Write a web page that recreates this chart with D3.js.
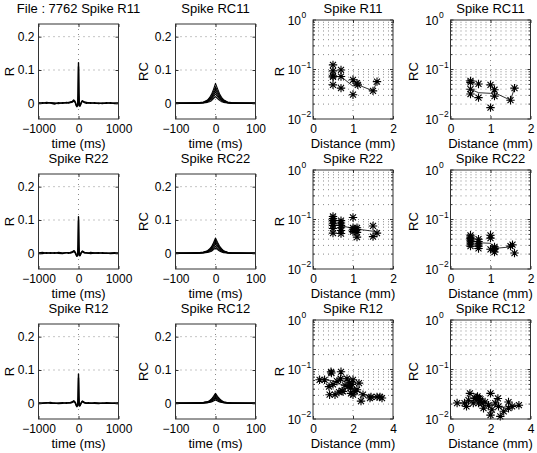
<!DOCTYPE html>
<html><head><meta charset="utf-8">
<script src="https://cdn.jsdelivr.net/npm/d3@7"></script>
<style>
body{margin:0;background:#fff}
text{font-family:"Liberation Sans",Arial,Helvetica,sans-serif;fill:#000}
</style>
</head><body>
<svg id="c" width="537" height="453"></svg>
<script>
// ---------- DATA ----------
const panelTitles = [
  ["File : 7762 Spike R11", "Spike RC11", "Spike R11", "Spike RC11"],
  ["Spike R22", "Spike RC22", "Spike R22", "Spike RC22"],
  ["Spike R12", "Spike RC12", "Spike R12", "Spike RC12"]
];
const yLabels = ["R", "RC", "R", "RC"];
const timeLabel = "time (ms)";
const distLabel = "Distance (mm)";

const rTimeTicks = [-1000, 0, 1000];
const rTimeTickLabels = ["\u22121000", "0", "1000"];
const rcTimeTicks = [-100, 0, 100];
const rcTimeTickLabels = ["\u2212100", "0", "100"];
const corrTicks = [0, 0.1, 0.2];
const corrTickLabels = ["0", "0.1", "0.2"];
const distTicksShort = [0, 1, 2];
const distTicksLong = [0, 2, 4];
const logTicks = [0.01, 0.1, 1];
const logTickExp = ["\u22122", "\u22121", "0"];

// cross-correlation time axis (R panels, ms)
const tR = [-1000,-900,-800,-700,-600,-500,-400,-300,-250,-200,-150,-120,-100,-80,-60,-40,-20,-10,0,10,20,40,60,80,100,120,150,200,250,300,400,500,600,700,800,900,1000];
const r11A = [0.002,0.000,0.003,0.001,-0.002,0.002,0.000,0.003,0.001,0.004,0.006,0.010,0.008,0.004,-0.004,-0.008,-0.004,0.030,0.122,0.030,-0.006,-0.008,-0.002,0.006,0.008,0.006,0.004,0.003,0.001,0.002,0.000,0.001,-0.001,0.002,0.000,0.001,0.001];
const r11B = [-0.001,0.002,0.000,0.002,0.001,-0.001,0.002,0.001,0.003,0.002,0.004,0.007,0.005,0.002,-0.006,-0.010,-0.006,0.020,0.110,0.024,-0.008,-0.006,0.000,0.004,0.006,0.004,0.002,0.000,0.002,0.000,0.002,-0.001,0.001,0.000,0.002,-0.001,0.000];
const r22A = [0.001,0.003,0.000,0.002,0.000,0.003,0.001,0.002,0.000,0.003,0.005,0.008,0.007,0.003,-0.003,-0.007,-0.003,0.028,0.110,0.026,-0.005,-0.007,-0.001,0.005,0.007,0.005,0.003,0.002,0.000,0.003,0.001,0.000,0.002,0.000,0.001,0.002,0.000];
const r22B = [0.000,-0.001,0.002,0.000,0.002,0.000,-0.001,0.002,0.002,0.001,0.003,0.005,0.004,0.001,-0.005,-0.009,-0.005,0.018,0.098,0.020,-0.007,-0.005,0.001,0.003,0.005,0.003,0.001,0.001,0.001,-0.001,0.001,0.002,0.000,0.001,-0.001,0.000,0.001];
const r12A = [0.002,0.000,0.001,0.003,0.000,0.001,0.002,0.000,0.002,0.003,0.005,0.008,0.006,0.003,-0.004,-0.008,-0.004,0.022,0.088,0.022,-0.006,-0.007,-0.001,0.005,0.007,0.005,0.003,0.001,0.002,0.000,0.002,0.001,0.000,0.002,0.001,0.000,0.002];
const r12B = [-0.001,0.001,0.002,0.000,0.001,-0.001,0.000,0.002,0.001,0.001,0.003,0.005,0.004,0.001,-0.006,-0.010,-0.006,0.014,0.076,0.016,-0.008,-0.005,0.000,0.003,0.005,0.003,0.001,0.000,0.000,0.001,0.000,-0.001,0.001,0.000,0.000,0.001,-0.001];

// RC panels time axis (ms)
const tRC = [-100,-80,-60,-40,-30,-20,-15,-10,-5,0,5,10,15,20,30,40,60,80,100];
const rc11 = [
  [0.000,0.001,0.001,0.002,0.004,0.010,0.017,0.027,0.042,0.060,0.044,0.029,0.018,0.011,0.004,0.002,0.001,0.000,0.000],
  [0.001,0.000,0.001,0.002,0.003,0.008,0.014,0.022,0.035,0.050,0.036,0.024,0.015,0.009,0.003,0.001,0.001,0.001,0.000],
  [0.000,0.000,0.001,0.001,0.003,0.007,0.012,0.018,0.029,0.042,0.030,0.020,0.012,0.007,0.003,0.001,0.000,0.000,0.001],
  [0.000,0.001,0.000,0.001,0.002,0.006,0.010,0.015,0.024,0.035,0.025,0.016,0.010,0.006,0.002,0.001,0.001,0.000,0.000],
  [0.001,0.000,0.000,0.001,0.002,0.005,0.008,0.012,0.019,0.028,0.020,0.013,0.008,0.005,0.002,0.001,0.000,0.000,0.000],
  [0.000,0.000,0.001,0.001,0.001,0.003,0.005,0.008,0.014,0.020,0.014,0.009,0.005,0.003,0.001,0.000,0.000,0.001,0.000]
];
const rc22 = [
  [0.000,0.001,0.001,0.002,0.004,0.008,0.013,0.020,0.032,0.046,0.033,0.022,0.014,0.008,0.003,0.001,0.001,0.000,0.000],
  [0.001,0.000,0.001,0.002,0.003,0.007,0.011,0.017,0.028,0.040,0.029,0.019,0.012,0.007,0.003,0.001,0.001,0.000,0.000],
  [0.000,0.000,0.001,0.001,0.003,0.006,0.009,0.014,0.023,0.034,0.024,0.016,0.010,0.006,0.002,0.001,0.000,0.001,0.000],
  [0.000,0.001,0.000,0.001,0.002,0.005,0.008,0.012,0.019,0.028,0.020,0.013,0.008,0.005,0.002,0.001,0.001,0.000,0.000],
  [0.001,0.000,0.000,0.001,0.002,0.004,0.006,0.009,0.015,0.022,0.015,0.010,0.006,0.004,0.001,0.001,0.000,0.000,0.001],
  [0.000,0.000,0.001,0.001,0.001,0.003,0.004,0.006,0.011,0.016,0.011,0.007,0.004,0.002,0.001,0.000,0.000,0.000,0.000]
];
const rc12 = [
  [0.000,0.001,0.001,0.002,0.003,0.005,0.008,0.013,0.021,0.030,0.021,0.014,0.009,0.005,0.002,0.001,0.001,0.000,0.000],
  [0.001,0.000,0.001,0.001,0.002,0.004,0.007,0.011,0.018,0.026,0.018,0.012,0.007,0.004,0.002,0.001,0.000,0.000,0.000],
  [0.000,0.000,0.001,0.001,0.002,0.004,0.006,0.009,0.015,0.022,0.015,0.010,0.006,0.003,0.001,0.001,0.000,0.001,0.000],
  [0.000,0.001,0.000,0.001,0.001,0.003,0.005,0.007,0.012,0.018,0.012,0.008,0.005,0.003,0.001,0.001,0.001,0.000,0.000],
  [0.001,0.000,0.000,0.001,0.001,0.002,0.004,0.006,0.010,0.014,0.010,0.006,0.004,0.002,0.001,0.000,0.000,0.000,0.000],
  [0.000,0.000,0.001,0.000,0.001,0.002,0.003,0.004,0.007,0.010,0.007,0.004,0.003,0.002,0.001,0.000,0.000,0.000,0.001]
];

// Distance scatter (peak values vs electrode distance)
const s11x = [0.5,0.5,0.5,0.5,0.5,0.7,0.7,0.7,1.0,1.0,1.1,1.12,1.5,1.6];
const s11y = [0.124,0.094,0.075,0.071,0.049,0.098,0.072,0.042,0.062,0.031,0.053,0.049,0.037,0.057];
const m11x = [0.5,0.7,1.0,1.1,1.5,1.6];
const m11y = [0.072,0.072,0.046,0.050,0.037,0.057];

const c11x = [0.5,0.5,0.5,0.5,0.7,0.7,1.0,1.0,1.1,1.1,1.5,1.6];
const c11y = [0.059,0.055,0.040,0.032,0.051,0.027,0.049,0.017,0.039,0.029,0.024,0.042];
const mc11x = [0.5,0.7,1.0,1.1,1.5,1.6];
const mc11y = [0.040,0.034,0.033,0.034,0.024,0.042];

const s22x = [0.5,0.5,0.5,0.5,0.5,0.5,0.5,0.7,0.7,0.7,0.7,0.7,0.7,1.0,1.0,1.0,1.0,1.1,1.1,1.1,1.1,1.5,1.5,1.6];
const s22y = [0.115,0.104,0.095,0.084,0.076,0.066,0.053,0.095,0.085,0.076,0.068,0.060,0.052,0.110,0.068,0.062,0.057,0.068,0.062,0.055,0.044,0.074,0.045,0.053];
const m22x = [0.5,0.7,1.0,1.1,1.5,1.6];
const m22y = [0.078,0.075,0.066,0.064,0.058,0.055];

const c22x = [0.5,0.5,0.5,0.5,0.5,0.5,0.5,0.7,0.7,0.7,0.7,0.7,1.0,1.0,1.0,1.1,1.1,1.1,1.1,1.5,1.55,1.6];
const c22y = [0.048,0.044,0.041,0.038,0.035,0.032,0.029,0.040,0.036,0.032,0.029,0.026,0.048,0.042,0.025,0.028,0.026,0.025,0.022,0.029,0.031,0.021];
const mc22x = [0.5,0.7,1.0,1.1,1.5,1.6];
const mc22y = [0.038,0.034,0.033,0.026,0.028,0.029];

const s12x = [0.33,0.58,0.8,0.9,0.92,0.83,1.1,1.2,1.38,1.4,1.5,1.6,1.75,1.83,1.88,1.9,2.0,2.0,2.1,2.2,2.3,2.4,2.5,2.85,2.9,3.2,3.45,3.35,1.3,1.45,1.0,1.7,1.95];
const s12y = [0.062,0.062,0.045,0.090,0.085,0.031,0.031,0.058,0.065,0.090,0.036,0.048,0.045,0.054,0.042,0.033,0.031,0.062,0.036,0.039,0.053,0.023,0.031,0.0265,0.028,0.028,0.0265,0.028,0.035,0.037,0.050,0.065,0.050];
const m12x = [0.33,0.58,0.9,1.2,1.4,1.6,1.8,2.0,2.2,2.4,2.9,3.4];
const m12y = [0.062,0.062,0.060,0.055,0.050,0.047,0.046,0.042,0.038,0.033,0.028,0.027];

const c12x = [0.33,0.8,0.9,0.97,1.14,1.23,1.35,1.45,1.4,1.57,1.65,1.73,1.9,2.0,2.0,2.07,2.24,2.37,2.4,2.49,2.66,2.9,2.9,3.08,3.42,1.3,1.5,0.7];
const c12y = [0.021,0.018,0.024,0.033,0.021,0.026,0.0285,0.026,0.021,0.021,0.0165,0.022,0.019,0.033,0.012,0.0154,0.021,0.026,0.018,0.0113,0.0143,0.022,0.0165,0.018,0.019,0.027,0.025,0.021];
const mc12x = [0.33,0.8,1.0,1.2,1.4,1.6,1.8,2.0,2.2,2.5,2.9,3.4];
const mc12y = [0.021,0.021,0.023,0.024,0.024,0.022,0.021,0.020,0.019,0.017,0.018,0.019];

// ---------- LAYOUT ----------
const svg = d3.select("#c");
const colLeft = [38.5, 175.5, 313, 450.5];
const W = 80;
const rowStep = 150;
const gridColor = "#8a8a8a";
const axisColor = "#333";

function addTitle(col,row){
  svg.append("text").attr("x", colLeft[col] + W/2).attr("y", 13 + row*rowStep)
    .attr("text-anchor","middle").style("font-size","13px").text(panelTitles[row][col]);
}
function addYLabel(col,cy,off){
  svg.append("text").attr("transform",`translate(${colLeft[col]-off},${cy}) rotate(-90)`)
    .attr("text-anchor","middle").style("font-size","13px").text(yLabels[col]);
}
function addXLabel(col,row,txt){
  svg.append("text").attr("x", colLeft[col] + W/2).attr("y", 147.5 + row*rowStep)
    .attr("text-anchor","middle").style("font-size","13px").text(txt);
}
function styleAxis(sel){
  sel.select(".domain").remove();
  sel.selectAll(".tick line").attr("stroke",axisColor);
  sel.selectAll(".tick text").style("font-size","12px").style("font-family","'Liberation Sans',Arial,sans-serif").attr("fill","#000");
}

function timePanel(col,row,xDomain,xTicks,xTickLabels,t,traces,sw){
  const x0 = colLeft[col], y0 = 24 + row*rowStep, h = 95;
  const g = svg.append("g").attr("transform",`translate(${x0},${y0})`);
  const x = d3.scaleLinear().domain(xDomain).range([0,W]);
  const y = d3.scaleLinear().domain([-0.047,0.238]).range([h,0]);
  // grid
  g.selectAll("line.hg").data(corrTicks.filter(v=>v!==0)).join("line")
    .attr("x1",0).attr("x2",W).attr("y1",d=>y(d)).attr("y2",d=>y(d))
    .attr("stroke",gridColor).attr("stroke-width",1).attr("stroke-dasharray","1,4");
  g.selectAll("line.vg").data(xTicks.filter(v=>v!==xDomain[0]&&v!==xDomain[1])).join("line")
    .attr("x1",d=>x(d)).attr("x2",d=>x(d)).attr("y1",0).attr("y2",h)
    .attr("stroke",gridColor).attr("stroke-width",1).attr("stroke-dasharray","1,4");
  // traces
  const line = d3.line().x((d,i)=>x(t[i])).y(d=>y(d));
  traces.forEach(tr=>{
    g.append("path").datum(tr).attr("d",line).attr("fill","none")
      .attr("stroke","#000").attr("stroke-width",sw).attr("stroke-linejoin","round");
  });
  // axes
  const ax = g.append("g").attr("transform",`translate(0,${h})`)
    .call(d3.axisBottom(x).tickValues(xTicks).tickSize(-3).tickPadding(5).tickFormat((d,i)=>xTickLabels[i]));
  styleAxis(ax);
  const axt = g.append("g").call(d3.axisTop(x).tickValues(xTicks).tickSize(-3).tickFormat(""));
  styleAxis(axt);
  const ay = g.append("g")
    .call(d3.axisLeft(y).tickValues(corrTicks).tickSize(-3).tickPadding(4).tickFormat((d,i)=>corrTickLabels[i]));
  styleAxis(ay);
  const ayr = g.append("g").attr("transform",`translate(${W},0)`)
    .call(d3.axisRight(y).tickValues(corrTicks).tickSize(-3).tickFormat(""));
  styleAxis(ayr);
  g.append("rect").attr("width",W).attr("height",h).attr("fill","none").attr("stroke",axisColor).attr("stroke-width",1);
  addTitle(col,row);
  addYLabel(col,y0+h/2, col===0?24.5:27.5);
  addXLabel(col,row,timeLabel);
}

function asterisk(g,cx,cy){
  const r = 4.2, d = 3;
  const p = `M${cx-r},${cy}L${cx+r},${cy}M${cx},${cy-r}L${cx},${cy+r}M${cx-d},${cy-d}L${cx+d},${cy+d}M${cx-d},${cy+d}L${cx+d},${cy-d}`;
  g.append("path").attr("d",p).attr("stroke","#000").attr("stroke-width",1.1).attr("fill","none");
}

function scatterPanel(col,row,xMax,xTicks,px,py,mx,my){
  const x0 = colLeft[col], y0 = 20 + row*rowStep, h = 99;
  const g = svg.append("g").attr("transform",`translate(${x0},${y0})`);
  const x = d3.scaleLinear().domain([0,xMax]).range([0,W]);
  const y = d3.scaleLog().domain([0.01,1]).range([h,0]);
  // minor/major log grid
  const gridVals = [];
  [0.01,0.1].forEach(dec=>{ for(let k=1;k<10;k++) gridVals.push(k*dec); });
  g.selectAll("line.hg").data(gridVals.filter(v=>v>0.0101)).join("line")
    .attr("x1",0).attr("x2",W).attr("y1",d=>y(d)).attr("y2",d=>y(d))
    .attr("stroke",gridColor).attr("stroke-width",1).attr("stroke-dasharray","1,4");
  g.selectAll("line.vg").data(xTicks.filter(v=>v!==0&&v!==xMax)).join("line")
    .attr("x1",d=>x(d)).attr("x2",d=>x(d)).attr("y1",0).attr("y2",h)
    .attr("stroke",gridColor).attr("stroke-width",1).attr("stroke-dasharray","1,4");
  // mean line
  g.append("path").datum(mx.map((v,i)=>[v,my[i]]))
    .attr("d",d3.line().x(d=>x(d[0])).y(d=>y(d[1])))
    .attr("fill","none").attr("stroke","#000").attr("stroke-width",0.8);
  // markers
  px.forEach((v,i)=>asterisk(g,x(v),y(py[i])));
  // axes
  const ax = g.append("g").attr("transform",`translate(0,${h})`)
    .call(d3.axisBottom(x).tickValues(xTicks).tickSize(-3).tickPadding(5).tickFormat(d3.format("d")));
  styleAxis(ax);
  const axt = g.append("g").call(d3.axisTop(x).tickValues(xTicks).tickSize(-3).tickFormat(""));
  styleAxis(axt);
  const minorTicks = gridVals.filter(v=>Math.abs(v-0.1)>1e-9 && Math.abs(v-0.01)>1e-9);
  [[0,-1],[W,1]].forEach(([xx,dir])=>{
    g.selectAll(null).data(logTicks).join("line")
      .attr("x1",xx).attr("x2",xx - dir*3).attr("y1",d=>y(d)).attr("y2",d=>y(d)).attr("stroke",axisColor);
    g.selectAll(null).data(minorTicks).join("line")
      .attr("x1",xx).attr("x2",xx - dir*2).attr("y1",d=>y(d)).attr("y2",d=>y(d)).attr("stroke",axisColor);
  });
  logTicks.forEach((v,i)=>{
    g.append("text").attr("x",-12).attr("y",y(v)+4.5).attr("text-anchor","end").style("font-size","12px").text("10");
    g.append("text").attr("x",-11.5).attr("y",y(v)-2).style("font-size","8.5px").text(logTickExp[i]);
  });
  g.append("rect").attr("width",W).attr("height",h).attr("fill","none").attr("stroke",axisColor).attr("stroke-width",1);
  addTitle(col,row);
  addYLabel(col,y0+h/2+2, col===2?29.5:33);
  addXLabel(col,row,distLabel);
}

// Row 1
timePanel(0,0,[-1000,1000],rTimeTicks,rTimeTickLabels,tR,[r11A,r11B],1.4);
timePanel(1,0,[-100,100],rcTimeTicks,rcTimeTickLabels,tRC,rc11,1.1);
scatterPanel(2,0,2,distTicksShort,s11x,s11y,m11x,m11y);
scatterPanel(3,0,2,distTicksShort,c11x,c11y,mc11x,mc11y);
// Row 2
timePanel(0,1,[-1000,1000],rTimeTicks,rTimeTickLabels,tR,[r22A,r22B],1.4);
timePanel(1,1,[-100,100],rcTimeTicks,rcTimeTickLabels,tRC,rc22,1.1);
scatterPanel(2,1,2,distTicksShort,s22x,s22y,m22x,m22y);
scatterPanel(3,1,2,distTicksShort,c22x,c22y,mc22x,mc22y);
// Row 3
timePanel(0,2,[-1000,1000],rTimeTicks,rTimeTickLabels,tR,[r12A,r12B],1.4);
timePanel(1,2,[-100,100],rcTimeTicks,rcTimeTickLabels,tRC,rc12,1.1);
scatterPanel(2,2,4,distTicksLong,s12x,s12y,m12x,m12y);
scatterPanel(3,2,4,distTicksLong,c12x,c12y,mc12x,mc12y);
</script>
</body></html>
